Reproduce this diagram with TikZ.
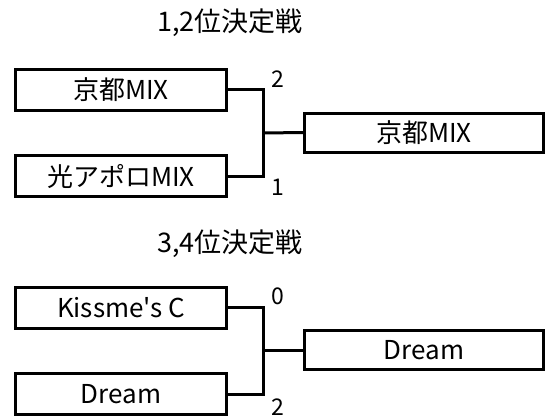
\documentclass[tikz,border=0pt]{standalone}
\usepackage{fontspec}
\setmainfont{Noto Sans CJK JP}[Ligatures=TeXOff]
\usetikzlibrary{positioning}
\tikzset{
	team/.style={draw=black, line width=3pt, minimum width=211pt, minimum height=41pt,
		inner sep=0pt, font=\fontsize{26}{30}\selectfont},
	winner/.style={team, minimum width=239pt, minimum height=39pt},
	score/.style={inner sep=0pt, font=\fontsize{23}{26}\selectfont},
	roundtitle/.style={inner sep=0pt, font=\fontsize{27}{30}\selectfont},
	bracket/.style={draw=black, line width=3pt},
}
\begin{document}
\begin{tikzpicture}[x=1pt, y=-1pt]
	\useasboundingbox (0,0) rectangle (553,418);
	% 1,2位
	\node[roundtitle] (titleA) at (230,23) {1,2位決定戦};
	\node[team] (kyotoA) at (121,89.5) {京都MIX};
	\node[team] (apollo) at (121,176) {光アポロMIX};
	\coordinate (joinA) at (263,133);
	\node[winner] (kyotoW) at (424,132.5) {京都MIX};
	\draw[bracket] (kyotoA.east) -| (joinA) |- (apollo.east);
	\draw[bracket] (joinA) -- (kyotoW.west);
	\node[score] (sKyoto) at (278,79) {2};
	\node[score] (sApollo) at (278,187) {1};
\begin{scope}[shift={(0,218)}]
	% 3,4位
	\node[roundtitle] (titleB) at (230,26) {3,4位決定戦};
	\node[team] (kissme) at (121,89.5) {Kissme's C};
	\node[team] (dream) at (121,176) {Dream};
	\coordinate (joinB) at (263,132);
	\node[winner] (dreamW) at (424,132) {Dream};
	\draw[bracket] (kissme.east) -| (joinB) |- (dream.east);
	\draw[bracket] (joinB) -- (dreamW.west);
	\node[score] (sKissme) at (278,78) {0};
	\node[score] (sDream) at (278,189) {2};
\end{scope}
\end{tikzpicture}
\end{document}
